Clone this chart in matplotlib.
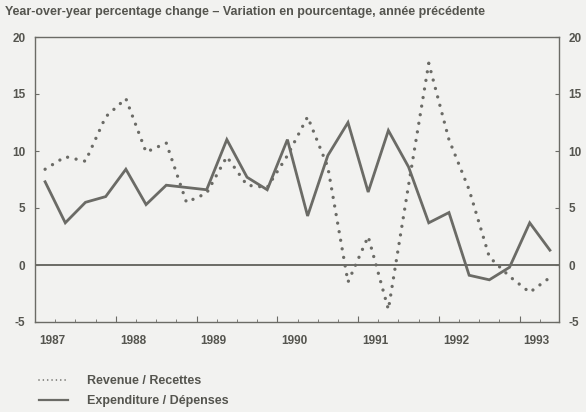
import matplotlib
matplotlib.use("Agg")
import matplotlib.pyplot as plt
import matplotlib.transforms as mtransforms
import numpy as np

# quarterly data, 1987Q1 .. 1993Q2
years = [1987, 1988, 1989, 1990, 1991, 1992, 1993]
revenue = [8.4, 9.5, 9.1, 13.0, 14.6, 9.9, 10.7, 5.5, 6.3, 9.5, 7.0, 6.8, 9.6,
           13.0, 8.6, -1.5, 2.5, -3.9, 7.0, 17.7, 11.0, 6.6, 0.7, -1.0, -2.4, -1.1]
expenditure = [7.3, 3.7, 5.5, 6.0, 8.4, 5.3, 7.0, 6.8, 6.6, 11.0, 7.7, 6.6, 11.0,
               4.3, 9.6, 12.5, 6.4, 11.8, 8.6, 3.7, 4.6, -0.9, -1.3, -0.2, 3.7, 1.3]
yticks = [-5, 0, 5, 10, 15, 20]

bg = "#f2f2f0"
ink = "#6b6b66"
txt = "#55554f"
plt.rcParams['font.family'] = ['Liberation Sans', 'DejaVu Sans']
plt.rcParams['axes.unicode_minus'] = False

fig = plt.figure(figsize=(5.86, 4.12), dpi=100, facecolor=bg)
ax = fig.add_axes([35/586, 1-322/412, (559-35)/586, (322-37)/412], facecolor=bg)

x = np.arange(len(revenue))
ax.plot(x, revenue, color=ink, lw=2.4, linestyle=(0, (0.01, 2.6)),
        dash_capstyle="round", label="Revenue / Recettes")
ax.plot(x, expenditure, color=ink, lw=2.0, solid_joinstyle="miter",
        label="Expenditure / Dépenses")
ax.axhline(0, color=ink, lw=1.4)

ax.set_xlim(-0.5, 25.45)
ax.set_ylim(-5, 20)

for s in ax.spines.values():
    s.set_color(ink)
    s.set_linewidth(1.0)

# y axis: labels on both sides
ax.set_yticks(yticks)
ax.tick_params(axis="y", direction="in", length=3, color=ink, labelsize=8.5,
               labelcolor=txt, left=True, right=True, labelleft=True,
               labelright=True, pad=7)
for lab in ax.get_yticklabels():
    lab.set_fontweight("bold")

# x axis: year boundaries as major ticks, quarters as minor ticks
ax.set_xticks([4 * i - 0.5 for i in range(1, len(years))])
ax.set_xticks(np.arange(0.5, 25.5, 1.0), minor=True)
ax.set_xticklabels([])
ax.tick_params(axis="x", which="major", direction="in", length=4, color=ink)
ax.tick_params(axis="x", which="minor", direction="in", length=2, color=ink)
trans = mtransforms.blended_transform_factory(ax.transData, ax.transAxes)
for i, yr in enumerate(years):
    ax.text(4 * i + 0.35, -0.065, str(yr), transform=trans, ha="center",
            va="center", fontsize=8.5, color=txt, fontweight="bold")

fig.text(5/586, 1-12/412,
         "Year-over-year percentage change \u2013 Variation en pourcentage, année précédente",
         fontsize=9, color=txt, fontweight="bold", va="center", ha="left")

leg = fig.legend(loc="upper left", bbox_to_anchor=(28/586, 1-364/412), frameon=False,
                 fontsize=9, handlelength=2.3, handletextpad=1.5, labelspacing=0.65)
for t in leg.get_texts():
    t.set_color(txt)
    t.set_fontweight("bold")
leg.get_lines()[0].set_linewidth(1.2)
leg.get_lines()[1].set_linewidth(1.6)

fig.savefig("out.png", dpi=100, facecolor=bg)
